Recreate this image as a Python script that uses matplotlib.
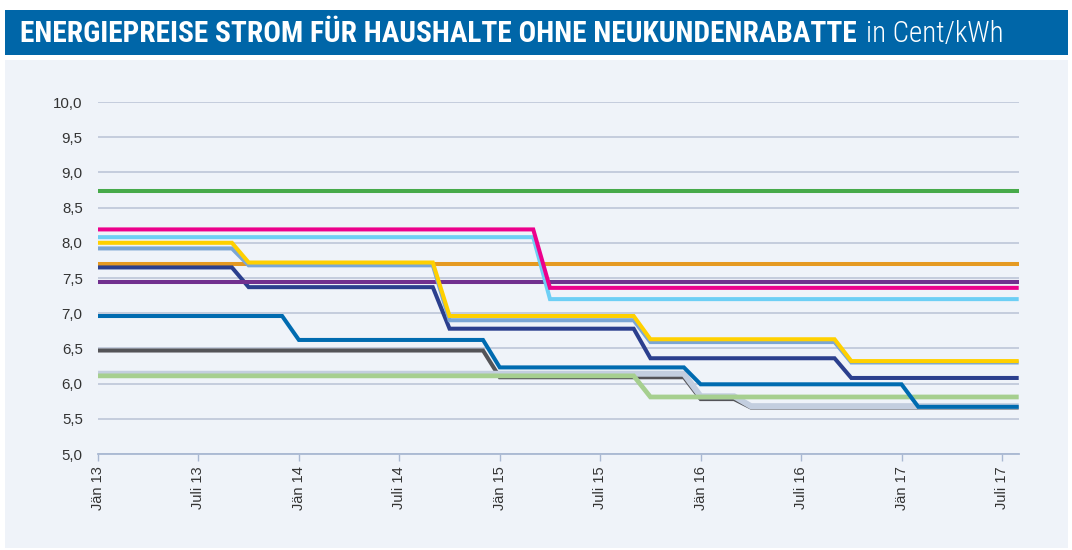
import matplotlib
matplotlib.use("Agg")
import matplotlib.pyplot as plt
from matplotlib import font_manager
from matplotlib.patches import Rectangle

# ---------------- data (Cent/kWh, monthly Jän 2013 .. Aug 2017) ----------------
months = list(range(56))
tick_positions = [0, 6, 12, 18, 24, 30, 36, 42, 48, 54]
tick_labels = ["Jän 13", "Juli 13", "Jän 14", "Juli 14", "Jän 15",
               "Juli 15", "Jän 16", "Juli 16", "Jän 17", "Juli 17"]
y_ticks = [5.0, 5.5, 6.0, 6.5, 7.0, 7.5, 8.0, 8.5, 9.0, 9.5, 10.0]
y_tick_labels = ["5,0", "5,5", "6,0", "6,5", "7,0", "7,5", "8,0", "8,5", "9,0", "9,5", "10,0"]

green = [8.74, 8.74, 8.74, 8.74, 8.74, 8.74, 8.74, 8.74, 8.74, 8.74, 8.74, 8.74,
         8.74, 8.74, 8.74, 8.74, 8.74, 8.74, 8.74, 8.74, 8.74, 8.74, 8.74, 8.74,
         8.74, 8.74, 8.74, 8.74, 8.74, 8.74, 8.74, 8.74, 8.74, 8.74, 8.74, 8.74,
         8.74, 8.74, 8.74, 8.74, 8.74, 8.74, 8.74, 8.74, 8.74, 8.74, 8.74, 8.74,
         8.74, 8.74, 8.74, 8.74, 8.74, 8.74, 8.74, 8.74]
magenta = [8.19, 8.19, 8.19, 8.19, 8.19, 8.19, 8.19, 8.19, 8.19, 8.19, 8.19, 8.19,
           8.19, 8.19, 8.19, 8.19, 8.19, 8.19, 8.19, 8.19, 8.19, 8.19, 8.19, 8.19,
           8.19, 8.19, 8.19, 7.36, 7.36, 7.36, 7.36, 7.36, 7.36, 7.36, 7.36, 7.36,
           7.36, 7.36, 7.36, 7.36, 7.36, 7.36, 7.36, 7.36, 7.36, 7.36, 7.36, 7.36,
           7.36, 7.36, 7.36, 7.36, 7.36, 7.36, 7.36, 7.36]
cyan = [8.08, 8.08, 8.08, 8.08, 8.08, 8.08, 8.08, 8.08, 8.08, 8.08, 8.08, 8.08,
        8.08, 8.08, 8.08, 8.08, 8.08, 8.08, 8.08, 8.08, 8.08, 8.08, 8.08, 8.08,
        8.08, 8.08, 8.08, 7.20, 7.20, 7.20, 7.20, 7.20, 7.20, 7.20, 7.20, 7.20,
        7.20, 7.20, 7.20, 7.20, 7.20, 7.20, 7.20, 7.20, 7.20, 7.20, 7.20, 7.20,
        7.20, 7.20, 7.20, 7.20, 7.20, 7.20, 7.20, 7.20]
yellow = [8.00, 8.00, 8.00, 8.00, 8.00, 8.00, 8.00, 8.00, 8.00, 7.72, 7.72, 7.72,
          7.72, 7.72, 7.72, 7.72, 7.72, 7.72, 7.72, 7.72, 7.72, 6.96, 6.96, 6.96,
          6.96, 6.96, 6.96, 6.96, 6.96, 6.96, 6.96, 6.96, 6.96, 6.63, 6.63, 6.63,
          6.63, 6.63, 6.63, 6.63, 6.63, 6.63, 6.63, 6.63, 6.63, 6.32, 6.32, 6.32,
          6.32, 6.32, 6.32, 6.32, 6.32, 6.32, 6.32, 6.32]
steel = [7.92, 7.92, 7.92, 7.92, 7.92, 7.92, 7.92, 7.92, 7.92, 7.68, 7.68, 7.68,
         7.68, 7.68, 7.68, 7.68, 7.68, 7.68, 7.68, 7.68, 7.68, 6.90, 6.90, 6.90,
         6.90, 6.90, 6.90, 6.90, 6.90, 6.90, 6.90, 6.90, 6.90, 6.59, 6.59, 6.59,
         6.59, 6.59, 6.59, 6.59, 6.59, 6.59, 6.59, 6.59, 6.59, 6.30, 6.30, 6.30,
         6.30, 6.30, 6.30, 6.30, 6.30, 6.30, 6.30, 6.30]
orange = [7.70, 7.70, 7.70, 7.70, 7.70, 7.70, 7.70, 7.70, 7.70, 7.70, 7.70, 7.70,
          7.70, 7.70, 7.70, 7.70, 7.70, 7.70, 7.70, 7.70, 7.70, 7.70, 7.70, 7.70,
          7.70, 7.70, 7.70, 7.70, 7.70, 7.70, 7.70, 7.70, 7.70, 7.70, 7.70, 7.70,
          7.70, 7.70, 7.70, 7.70, 7.70, 7.70, 7.70, 7.70, 7.70, 7.70, 7.70, 7.70,
          7.70, 7.70, 7.70, 7.70, 7.70, 7.70, 7.70, 7.70]
navy = [7.65, 7.65, 7.65, 7.65, 7.65, 7.65, 7.65, 7.65, 7.65, 7.37, 7.37, 7.37,
        7.37, 7.37, 7.37, 7.37, 7.37, 7.37, 7.37, 7.37, 7.37, 6.78, 6.78, 6.78,
        6.78, 6.78, 6.78, 6.78, 6.78, 6.78, 6.78, 6.78, 6.78, 6.36, 6.36, 6.36,
        6.36, 6.36, 6.36, 6.36, 6.36, 6.36, 6.36, 6.36, 6.36, 6.08, 6.08, 6.08,
        6.08, 6.08, 6.08, 6.08, 6.08, 6.08, 6.08, 6.08]
purple = [7.44, 7.44, 7.44, 7.44, 7.44, 7.44, 7.44, 7.44, 7.44, 7.44, 7.44, 7.44,
          7.44, 7.44, 7.44, 7.44, 7.44, 7.44, 7.44, 7.44, 7.44, 7.44, 7.44, 7.44,
          7.44, 7.44, 7.44, 7.44, 7.44, 7.44, 7.44, 7.44, 7.44, 7.44, 7.44, 7.44,
          7.44, 7.44, 7.44, 7.44, 7.44, 7.44, 7.44, 7.44, 7.44, 7.44, 7.44, 7.44,
          7.44, 7.44, 7.44, 7.44, 7.44, 7.44, 7.44, 7.44]
mid_blue = [6.96, 6.96, 6.96, 6.96, 6.96, 6.96, 6.96, 6.96, 6.96, 6.96, 6.96, 6.96,
            6.62, 6.62, 6.62, 6.62, 6.62, 6.62, 6.62, 6.62, 6.62, 6.62, 6.62, 6.62,
            6.23, 6.23, 6.23, 6.23, 6.23, 6.23, 6.23, 6.23, 6.23, 6.23, 6.23, 6.23,
            5.99, 5.99, 5.99, 5.99, 5.99, 5.99, 5.99, 5.99, 5.99, 5.99, 5.99, 5.99,
            5.99, 5.67, 5.67, 5.67, 5.67, 5.67, 5.67, 5.67]
dark_gray = [6.47, 6.47, 6.47, 6.47, 6.47, 6.47, 6.47, 6.47, 6.47, 6.47, 6.47, 6.47,
             6.47, 6.47, 6.47, 6.47, 6.47, 6.47, 6.47, 6.47, 6.47, 6.47, 6.47, 6.47,
             6.09, 6.09, 6.09, 6.09, 6.09, 6.09, 6.09, 6.09, 6.09, 6.09, 6.09, 6.09,
             5.78, 5.78, 5.78, 5.66, 5.66, 5.66, 5.66, 5.66, 5.66, 5.66, 5.66, 5.66,
             5.66, 5.66, 5.66, 5.66, 5.66, 5.66, 5.66, 5.66]
light_gray = [6.14, 6.14, 6.14, 6.14, 6.14, 6.14, 6.14, 6.14, 6.14, 6.14, 6.14, 6.14,
              6.14, 6.14, 6.14, 6.14, 6.14, 6.14, 6.14, 6.14, 6.14, 6.14, 6.14, 6.14,
              6.14, 6.14, 6.14, 6.14, 6.14, 6.14, 6.14, 6.14, 6.14, 6.14, 6.14, 6.14,
              5.82, 5.82, 5.82, 5.68, 5.68, 5.68, 5.68, 5.68, 5.68, 5.68, 5.68, 5.68,
              5.68, 5.68, 5.68, 5.68, 5.68, 5.68, 5.68, 5.68]
light_green = [6.11, 6.11, 6.11, 6.11, 6.11, 6.11, 6.11, 6.11, 6.11, 6.11, 6.11, 6.11,
               6.11, 6.11, 6.11, 6.11, 6.11, 6.11, 6.11, 6.11, 6.11, 6.11, 6.11, 6.11,
               6.11, 6.11, 6.11, 6.11, 6.11, 6.11, 6.11, 6.11, 6.11, 5.81, 5.81, 5.81,
               5.81, 5.81, 5.81, 5.81, 5.81, 5.81, 5.81, 5.81, 5.81, 5.81, 5.81, 5.81,
               5.81, 5.81, 5.81, 5.81, 5.81, 5.81, 5.81, 5.81]

# (values, colour, width in pt) in drawing order bottom -> top
series = [
    (dark_gray, "#545458", 2.9),
    (light_gray, "#c3cedf", 4.3),
    (light_green, "#a6cf8f", 3.4),
    (mid_blue, "#006bb0", 2.9),
    (orange, "#e59a22", 2.9),
    (navy, "#2b3f8e", 2.9),
    (purple, "#71308f", 2.9),
    (steel, "#7ba6d5", 2.9),
    (yellow, "#ffd000", 2.9),
    (cyan, "#6dcff5", 2.9),
    (magenta, "#ec008c", 2.9),
    (green, "#47aa4a", 2.9),
]

W, H = 1072, 550
fig = plt.figure(figsize=(W / 100, H / 100), dpi=100, facecolor="white")

# panel and title banner (behind the axes)
fig.patches.append(Rectangle((5 / W, 2 / H), 1063 / W, 488 / H, transform=fig.transFigure,
                             facecolor="#eff3f9", edgecolor="none", zorder=-5))
fig.patches.append(Rectangle((5 / W, (H - 55) / H), 1063 / W, 45 / H, transform=fig.transFigure,
                             facecolor="#0066a8", edgecolor="none", zorder=-5))

available = {f.name for f in font_manager.fontManager.ttflist}
cond = None
for cand in ["Roboto Condensed", "Liberation Sans Narrow", "DejaVu Sans Condensed",
             "Roboto", "Liberation Sans"]:
    if cand in available:
        cond = cand
        break
if cond is None:
    cond = "DejaVu Sans"

renderer = fig.canvas.get_renderer()
t1 = fig.text(20 / W, 1 - 34 / H, "ENERGIEPREISE STROM FÜR HAUSHALTE OHNE NEUKUNDENRABATTE",
              color="white", fontweight="bold", family=cond, fontsize=20, va="center", ha="left")
w1 = t1.get_window_extent(renderer).width
t1.set_fontsize(20 * 838 / w1)
t2 = fig.text(866 / W, 1 - 34 / H, "in Cent/kWh", color="white", family=cond,
              fontweight="light", fontsize=20, va="center", ha="left")
w2 = t2.get_window_extent(renderer).width
t2.set_fontsize(min(20 * 137 / w2, t1.get_fontsize() * 1.05))

# axes
ax = fig.add_axes([98 / W, 96 / H, 920.7 / W, 352 / H], zorder=2)
ax.set_facecolor("none")
for sp in ["top", "right", "left"]:
    ax.spines[sp].set_visible(False)
ax.spines["bottom"].set_color("#a9b8d2")
ax.spines["bottom"].set_linewidth(1.3)

for (vals, col, lw) in series:
    ax.plot(months, vals, color=col, linewidth=lw, solid_joinstyle="miter",
            solid_capstyle="butt", clip_on=False, zorder=3)

ax.set_xlim(0, 55)
ax.set_ylim(5, 10)
ax.set_yticks(y_ticks)
ax.set_yticklabels(y_tick_labels)
ax.set_xticks(tick_positions)
ax.set_xticklabels(tick_labels, rotation=90)
ax.grid(axis="y", color="#c1c9da", linewidth=1.3, zorder=1)
ax.set_axisbelow(True)
ax.tick_params(axis="y", length=0, pad=11, labelsize=10.8, labelcolor="#333333")
ax.tick_params(axis="x", length=5, width=1.0, color="#a9b8d2", pad=4,
               labelsize=10.5, labelcolor="#333333")
for lab in ax.get_xticklabels() + ax.get_yticklabels():
    lab.set_family("Liberation Sans")

fig.savefig("out.png", dpi=100, facecolor="white")
